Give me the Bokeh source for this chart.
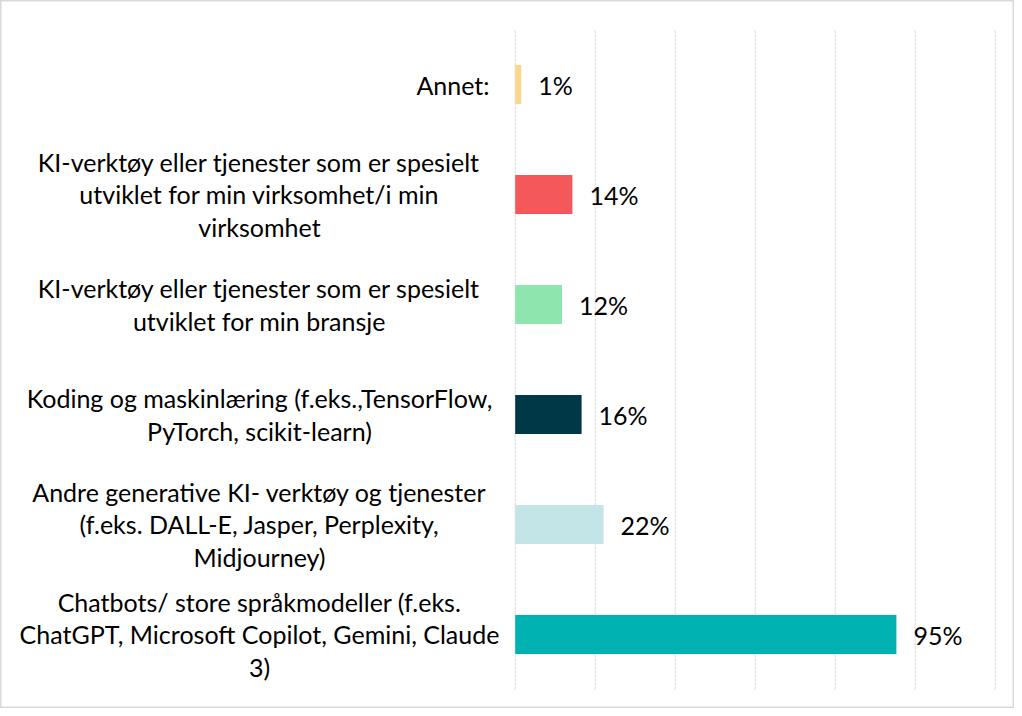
from bokeh.plotting import figure
from bokeh.models import ColumnDataSource, Range1d
from bokeh.core.properties import value
from bokeh.embed import file_html
from bokeh.resources import INLINE

# ---- data (top to bottom) ----
categories = [
    "Annet:",
    "KI-verktøy eller tjenester som er spesielt\nutviklet for min virksomhet/i min\nvirksomhet",
    "KI-verktøy eller tjenester som er spesielt\nutviklet for min bransje",
    "Koding og maskinlæring (f.eks.,TensorFlow,\nPyTorch, scikit-learn)",
    "Andre generative KI- verktøy og tjenester\n(f.eks. DALL-E, Jasper, Perplexity,\nMidjourney)",
    "Chatbots/ store språkmodeller (f.eks.\nChatGPT, Microsoft Copilot, Gemini, Claude\n3)",
]
values = [1.5, 14.3, 11.7, 16.6, 22.1, 95.3]
value_labels = ["1%", "14%", "12%", "16%", "22%", "95%"]
colors = ["#F9D68A", "#F4585B", "#8EE5AE", "#003847", "#C4E5E8", "#00B2B2"]
grid_ticks = [0, 20, 40, 60, 80, 100, 120]

# ---- layout ----
W, H = 1014, 708
PX_PER_UNIT_X = 4.0          # pixels per percentage point
ZERO_PX = 514.7              # frame x of the 0% line
BAND_PX = 110.0              # pixels per category band
TOP_PX = 84.0                # frame y of the first band centre
FONT = "Lato"
FS = "25px"

n = len(categories)
x_start = -ZERO_PX / PX_PER_UNIT_X
x_end = x_start + W / PX_PER_UNIT_X
y_end = (n - 1) + TOP_PX / BAND_PX
y_start = y_end - H / BAND_PX

ypos = [n - 1 - i for i in range(n)]
multi = ["\n" in c for c in categories]

src = ColumnDataSource(dict(
    y=ypos, v=values, lab=value_labels, col=colors, cat=categories,
))

p = figure(width=W, height=H, output_backend="svg", toolbar_location=None,
           x_range=Range1d(x_start, x_end), y_range=Range1d(y_start, y_end),
           min_border=0)
p.axis.visible = False
p.grid.visible = False
p.outline_line_color = "#D9D9D9"
p.outline_line_width = 2
p.background_fill_color = "white"
p.border_fill_color = "white"

# gridlines
p.segment(x0=grid_ticks, x1=grid_ticks, y0=[-0.5] * len(grid_ticks),
          y1=[n - 0.5] * len(grid_ticks), line_color="#D9D9D9",
          line_width=1, line_dash="3 1")

# bars
p.hbar(y="y", left=0, right="v", height=0.355, fill_color="col",
       line_color=None, source=src)

# value labels
p.text(x="v", y="y", text="lab", source=src, x_offset=17,
       text_align="left", text_baseline="middle",
       text_font=value(FONT), text_font_size=FS, text_color="black")

# category labels
right_edge = (497 - 8 - ZERO_PX) / PX_PER_UNIT_X
center_x = (267 - 8 - ZERO_PX) / PX_PER_UNIT_X
single = ColumnDataSource(dict(
    y=[y for y, m in zip(ypos, multi) if not m],
    t=[c for c, m in zip(categories, multi) if not m]))
multis = ColumnDataSource(dict(
    y=[y for y, m in zip(ypos, multi) if m],
    t=[c for c, m in zip(categories, multi) if m]))
p.text(x=right_edge, y="y", text="t", source=single, text_align="right",
       text_baseline="middle", text_font=value(FONT), text_font_size=FS,
       text_color="black")
p.text(x=center_x, y="y", text="t", source=multis, text_align="center",
       text_baseline="middle", text_font=value(FONT), text_font_size=FS,
       text_line_height=1.07, text_color="black")

open("out.html", "w").write(file_html(p, INLINE))
